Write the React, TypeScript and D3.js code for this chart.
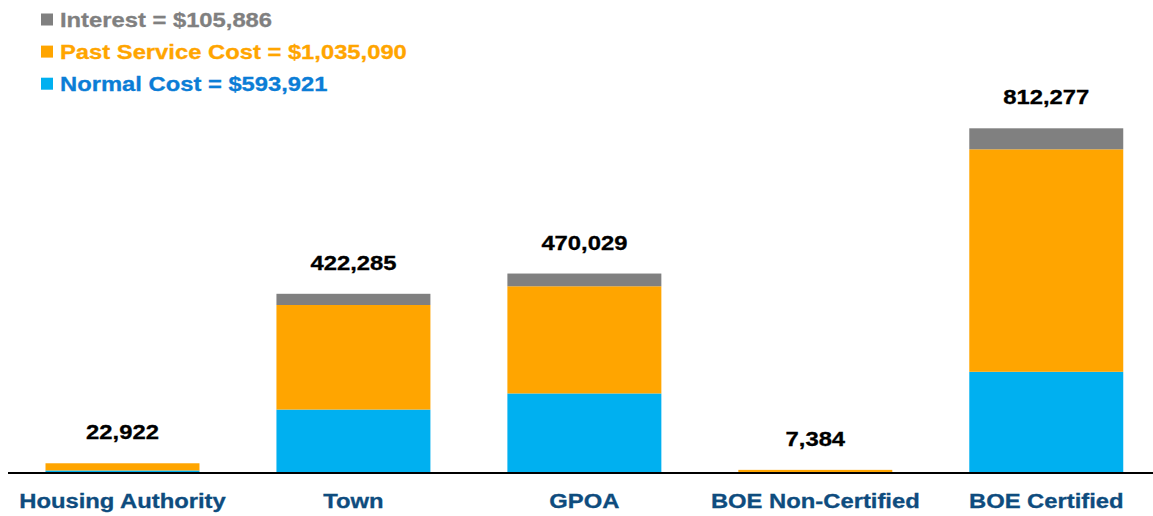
import React from "react";
import * as d3 from "d3";

const categories = ["Housing Authority", "Town", "GPOA", "BOE Non-Certified", "BOE Certified"];
const normalCost = [6000, 149500, 187500, 0, 238500];
const pastServiceCost = [16922, 246385, 252543, 7384, 524277];
const interest = [0, 26400, 29986, 0, 49500];
const seriesNames = ["Normal Cost", "Past Service Cost", "Interest"];
const legendTotals = ["$593,921", "$1,035,090", "$105,886"];

const W = 1153;
const H = 516;
const barColors = ["#00B0F0", "#FFA500", "#808080"];
const legendTextColors = ["#0B7DD6", "#FFA500", "#808080"];
const catColor = "#0E4C7E";
const FONT = "'Liberation Sans', Arial, sans-serif";

function SText({ x, y, children, fill, size = 20, anchor = "middle", sx = 1.19 }: any) {
  return (
    <text
      transform={`translate(${x},${y}) scale(${sx},1)`}
      textAnchor={anchor}
      fontFamily={FONT}
      fontWeight="bold"
      fontSize={size}
      fill={fill}
      stroke={fill}
      strokeWidth={0.3}
    >
      {children}
    </text>
  );
}

export default function App() {
  const rows = categories.map((c, i) => ({
    cat: c,
    "Normal Cost": normalCost[i],
    "Past Service Cost": pastServiceCost[i],
    Interest: interest[i],
  }));
  const stack = d3.stack<any>().keys(seriesNames)(rows);
  const totals = categories.map((_, i) => normalCost[i] + pastServiceCost[i] + interest[i]);

  const x = d3
    .scaleBand()
    .domain(categories)
    .range([7, 1161.75])
    .paddingInner(0.3333)
    .paddingOuter(0.1667);
  const y = d3.scaleLinear().domain([0, d3.max(totals) as number]).range([473, 128.3]);
  const fmt = d3.format(",");

  const legendOrder = [2, 1, 0];

  return (
    <svg width={W} height={H} style={{ position: "absolute", left: 0, top: 0 }}>
      <rect x={0} y={0} width={W} height={H} fill="#fff" />
      {stack.map((layer, si) => (
        <g key={seriesNames[si]} fill={barColors[si]}>
          {layer.map((d, i) => {
            const h = y(d[0]) - y(d[1]);
            if (h <= 0) return null;
            return (
              <rect
                key={i}
                x={x(categories[i])}
                y={y(d[1])}
                width={x.bandwidth()}
                height={h}
              />
            );
          })}
        </g>
      ))}
      <line x1={8} x2={W} y1={473} y2={473} stroke="#000" strokeWidth={2} />
      {categories.map((c, i) => (
        <SText key={c} x={(x(c) as number) + x.bandwidth() / 2} y={y(totals[i]) - 24} fill="#000">
          {fmt(totals[i])}
        </SText>
      ))}
      {categories.map((c) => (
        <SText key={c} x={(x(c) as number) + x.bandwidth() / 2} y={507.5} fill={catColor}>
          {c}
        </SText>
      ))}
      {legendOrder.map((si, k) => {
        const by = 26.5 + k * 32.1;
        return (
          <g key={si}>
            <rect x={41} y={by - 13} width={12} height={12} fill={barColors[si]} />
            <SText x={60} y={by} anchor="start" fill={legendTextColors[si]} size={20.5} sx={1.16}>
              {`${seriesNames[si]} = ${legendTotals[si]}`}
            </SText>
          </g>
        );
      })}
    </svg>
  );
}
